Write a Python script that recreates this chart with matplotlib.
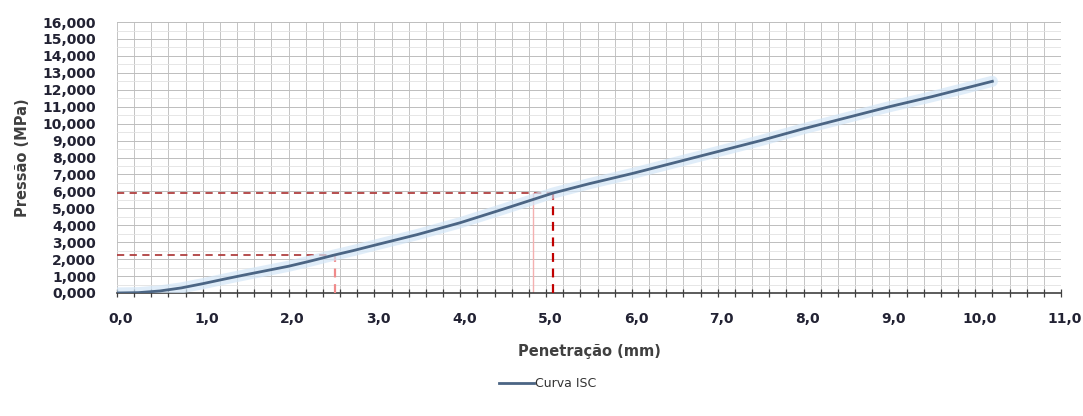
import numpy as np
import matplotlib.pyplot as plt
from matplotlib.ticker import MultipleLocator, FuncFormatter
from matplotlib.transforms import ScaledTranslation

# penetration test readings (mm, MPa)
penetracao = [0.0, 0.25, 0.5, 0.75, 1.0, 1.25, 1.5, 1.75, 2.0, 2.25, 2.54, 2.75,
              3.0, 3.5, 4.0, 4.5, 5.08, 5.5, 6.0, 6.5, 7.0, 7.5, 8.0, 8.5,
              9.0, 9.5, 10.2]
pressao = [0.0, 0.02, 0.12, 0.3, 0.55, 0.82, 1.08, 1.33, 1.58, 1.88, 2.25, 2.5,
           2.82, 3.45, 4.15, 4.95, 5.9, 6.45, 7.05, 7.7, 8.35, 9.0, 9.7, 10.35,
           11.0, 11.6, 12.5]

# reference readings at 2.54 mm and 5.08 mm
ref_pen = [2.54, 5.08]
ref_pres = [2.25, 5.9]
ref_cores = ['#f08a8a', '#c00000']
guia_pen = [4.85]

plt.rcParams['font.family'] = ['DejaVu Sans']

fig = plt.figure(figsize=(10.83, 4.16), dpi=100)
ax = fig.add_axes([0.108, 0.2957, 0.8717, 0.6513])

ax.set_xlim(0, 11)
ax.set_ylim(0, 16)

ax.xaxis.set_major_locator(MultipleLocator(1))
ax.xaxis.set_minor_locator(MultipleLocator(0.2))
ax.yaxis.set_major_locator(MultipleLocator(1))
ax.yaxis.set_minor_locator(MultipleLocator(0.5))
ax.xaxis.set_major_formatter(FuncFormatter(lambda v, p: f'{v:.1f}'.replace('.', ',')))
ax.yaxis.set_major_formatter(FuncFormatter(lambda v, p: f'{v:.3f}'.replace('.', ',')))

ax.grid(which='major', axis='y', color='#bdbdbd', lw=0.7)
ax.grid(which='minor', axis='y', color='#e2e2e2', lw=0.6)
ax.grid(which='both', axis='x', color='#c4c4c4', lw=0.7)

for s in ['top', 'right', 'left']:
    ax.spines[s].set_visible(False)
ax.spines['bottom'].set_color('#404040')
ax.spines['bottom'].set_linewidth(1.2)

ax.tick_params(axis='x', which='both', direction='inout', length=6, width=0.9,
               color='#404040', labelsize=10, pad=11)
ax.tick_params(axis='y', which='both', length=0, labelsize=10, pad=15)
for lab in ax.get_xticklabels() + ax.get_yticklabels():
    lab.set_fontweight('bold')
    lab.set_color('#222233')
shift = ScaledTranslation(4 / 100, 0, fig.dpi_scale_trans)
for lab in ax.get_xticklabels():
    lab.set_transform(lab.get_transform() + shift)

# faint guide line
for g in guia_pen:
    ax.plot([g, g], [0, ref_pres[1]], color='#f4b0b0', lw=1.0, zorder=2)

# dashed reading lines
for xp, yp, c in zip(ref_pen, ref_pres, ref_cores):
    ax.plot([0, xp], [yp, yp], color='#b04040', lw=1.3, ls=(0, (4, 3)), zorder=3)
    ax.plot([xp, xp], [0, yp], color=c, lw=1.6, ls=(0, (4, 3)), zorder=3)

# the curve with a soft halo
ax.plot(penetracao, pressao, color='#d3e6f7', lw=8, alpha=0.7, zorder=3,
        solid_capstyle='round')
ax.plot(penetracao, pressao, color='#4b6584', lw=2, zorder=4, label='Curva ISC')

ax.set_xlabel('Penetração (mm)', fontsize=10.5, fontweight='bold', color='#404040',
              labelpad=13)
ax.set_ylabel('Pressão (MPa)', fontsize=10.5, fontweight='bold', color='#404040',
              labelpad=9)

leg = ax.legend(loc='upper center', bbox_to_anchor=(0.456, -0.27), frameon=False,
                fontsize=9, handlelength=2.8, handletextpad=0.1)
for t in leg.get_texts():
    t.set_color('#333333')

fig.savefig('out.png', dpi=100)
